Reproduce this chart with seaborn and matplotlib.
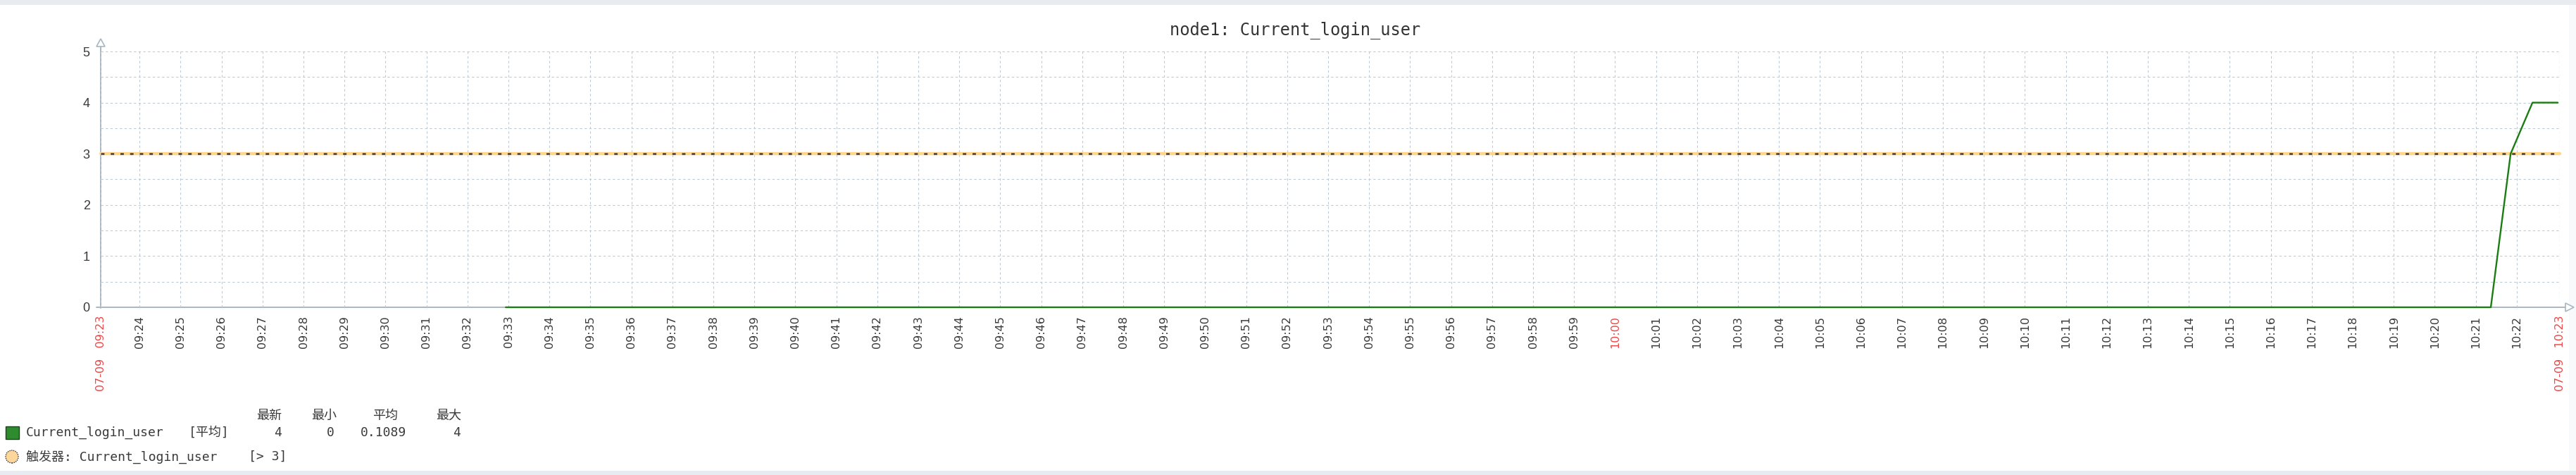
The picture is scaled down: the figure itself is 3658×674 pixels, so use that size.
import numpy as np
import pandas as pd
import seaborn as sns
import matplotlib.pyplot as plt
import matplotlib.dates as mdates
from matplotlib.patches import Rectangle, Ellipse, Polygon
from matplotlib.lines import Line2D

# %% Data
day = "2024-07-09"
t_start = "09:23:03"
t_end = "10:23:03"
series_times = ["09:32:56", "10:21:22", "10:21:51", "10:22:23", "10:23:00"]
series_values = [0, 0, 3, 4, 4]
trigger_value = 3
item_name = "Current_login_user"
graph_title = "node1: Current_login_user"
stat_func = "[平均]"
stat_headers = ["最新", "最小", "平均", "最大"]
stat_values = ["4", "0", "0.1089", "4"]
trigger_label = "触发器: Current_login_user"
trigger_expr = "[> 3]"
red_minutes = ["10:00"]
y_ticks = [0, 1, 2, 3, 4, 5]

# %% Style
sns.set_style("white")
MONO = ["DejaVu Sans Mono", "Noto Sans CJK SC"]
plt.rcParams["font.family"] = MONO

W, H = 3658, 674
AX_COL = "#a9b7c2"
GRID_COL = "#bfcad3"
RED = "#ee4848"
TXT = "#3a3a3a"
GREEN = "#1A7C11"


def fx(x):
    return x / W


def fy(y):
    return 1 - y / H


fig = plt.figure(figsize=(W / 100, H / 100), dpi=100, facecolor="white")

# top / bottom page bands
fig.patches.append(Rectangle((0, fy(7)), 1, 7 / H, transform=fig.transFigure,
                             facecolor="#e8ecf0", edgecolor="none", zorder=-5))
fig.patches.append(Rectangle((0, 0), 1, 6 / H, transform=fig.transFigure,
                             facecolor="#e8ecf0", edgecolor="none", zorder=-5))
fig.patches.append(Rectangle((fx(3648), fy(668)), 1 - fx(3648), (668 - 7) / H,
                             transform=fig.transFigure,
                             facecolor="#f8f9fa", edgecolor="none", zorder=-5))

# axis lines (drawn below the plot area so the data sits on top)
fig.lines.append(Line2D([fx(143), fx(143)], [fy(437), fy(65)], transform=fig.transFigure,
                        color=AX_COL, lw=1.4, zorder=-1))
fig.lines.append(Line2D([fx(137), fx(3643)], [fy(436), fy(436)], transform=fig.transFigure,
                        color=AX_COL, lw=1.4, zorder=-1))
fig.patches.append(Polygon([(fx(143), fy(55)), (fx(137), fy(66)), (fx(149), fy(66))],
                           closed=True, transform=fig.transFigure,
                           facecolor="white", edgecolor=AX_COL, lw=1.2, zorder=-1))
fig.patches.append(Polygon([(fx(3655), fy(436)), (fx(3643), fy(430)), (fx(3643), fy(442))],
                           closed=True, transform=fig.transFigure,
                           facecolor="white", edgecolor=AX_COL, lw=1.2, zorder=-1))

ax = fig.add_axes([fx(143), fy(436), (3635 - 143) / W, (436 - 73) / H])
ax.set_facecolor("none")

df = pd.DataFrame({
    "time": pd.to_datetime([f"{day} {t}" for t in series_times]),
    "value": series_values,
})

# trigger line: light orange band with dark dashes on top
ax.axhline(trigger_value, color="#ffd68c", lw=3.2, zorder=3)
ax.axhline(trigger_value, color="#555555", lw=2.2, linestyle=(0, (1.6, 2.9)), zorder=4)

sns.lineplot(data=df, x="time", y="value", ax=ax, color=GREEN, lw=1.7, zorder=5)
for ln in ax.lines:
    ln.set_clip_on(False)

start = pd.Timestamp(f"{day} {t_start}")
end = pd.Timestamp(f"{day} {t_end}")
ax.set_xlim(mdates.date2num(start), mdates.date2num(end))
ax.set_ylim(0, 5)

# x ticks: start, every minute, end
minutes = pd.date_range(f"{day} 09:24", f"{day} 10:22", freq="min")
ticks = [start] + list(minutes) + [end]
labels = [start.strftime("%m-%d   %H:%M")] + [m.strftime("%H:%M") for m in minutes] \
    + [end.strftime("%m-%d   %H:%M")]
ax.set_xticks(mdates.date2num(ticks))
ax.set_xticklabels(labels, rotation=90, ha="center", va="top", fontsize=11.5, color=TXT)
for i, lbl in enumerate(ax.get_xticklabels()):
    lbl.set_family("DejaVu Sans")
    if i == 0 or i == len(labels) - 1 or lbl.get_text() in red_minutes:
        lbl.set_color(RED)

ax.set_yticks(y_ticks)
ax.set_yticklabels([str(v) for v in y_ticks], fontsize=13, color=TXT)
for lbl in ax.get_yticklabels():
    lbl.set_family("Liberation Sans")
ax.set_yticks(np.arange(0.5, 5, 1.0), minor=True)

ax.tick_params(axis="x", length=0, pad=8.5)
ax.tick_params(axis="y", which="both", length=0, pad=11)
ax.grid(True, axis="x", color=GRID_COL, lw=0.8, linestyle=(0, (3, 3)))
ax.grid(True, axis="y", which="both", color=GRID_COL, lw=0.8, linestyle=(0, (3, 3)))
ax.axvline(mdates.date2num(end), color=GRID_COL, lw=0.8, linestyle=(0, (3, 3)), zorder=1)
ax.set_axisbelow(True)
ax.set_xlabel("")
ax.set_ylabel("")
sns.despine(ax=ax, left=True, bottom=True)

# title
fig.text(fx(1839), fy(43), graph_title, ha="center", va="center",
         fontsize=17, color="#333333", family=MONO)

# legend block
LEG_FS = 13
head_right = [400, 478, 565, 655]
val_right = [400, 475, 577, 654]
for h, xr in zip(stat_headers, head_right):
    fig.text(fx(xr), fy(590), h, ha="right", va="center", fontsize=LEG_FS, color=TXT, family=MONO)

fig.patches.append(Rectangle((fx(8), fy(623)), 19 / W, 18 / H, transform=fig.transFigure,
                             facecolor="#2e8b2e", edgecolor="#1f3f1f", lw=1.0, zorder=5))
fig.text(fx(37), fy(614), item_name, ha="left", va="center", fontsize=LEG_FS, color=TXT, family=MONO)
fig.text(fx(268), fy(614), stat_func, ha="left", va="center", fontsize=LEG_FS, color=TXT, family=MONO)
for v, xr in zip(stat_values, val_right):
    fig.text(fx(xr), fy(614), v, ha="right", va="center", fontsize=LEG_FS, color=TXT, family=MONO)

fig.patches.append(Ellipse((fx(17), fy(648)), 18 / W, 18 / H, transform=fig.transFigure,
                           facecolor="#ffd699", edgecolor="#333333", lw=1.0,
                           linestyle=(0, (1, 1)), zorder=5))
fig.text(fx(37), fy(648), trigger_label, ha="left", va="center", fontsize=LEG_FS, color=TXT, family=MONO)
fig.text(fx(353), fy(648), trigger_expr, ha="left", va="center", fontsize=LEG_FS, color=TXT, family=MONO)

fig.savefig("out.png", dpi=100, facecolor="white")
